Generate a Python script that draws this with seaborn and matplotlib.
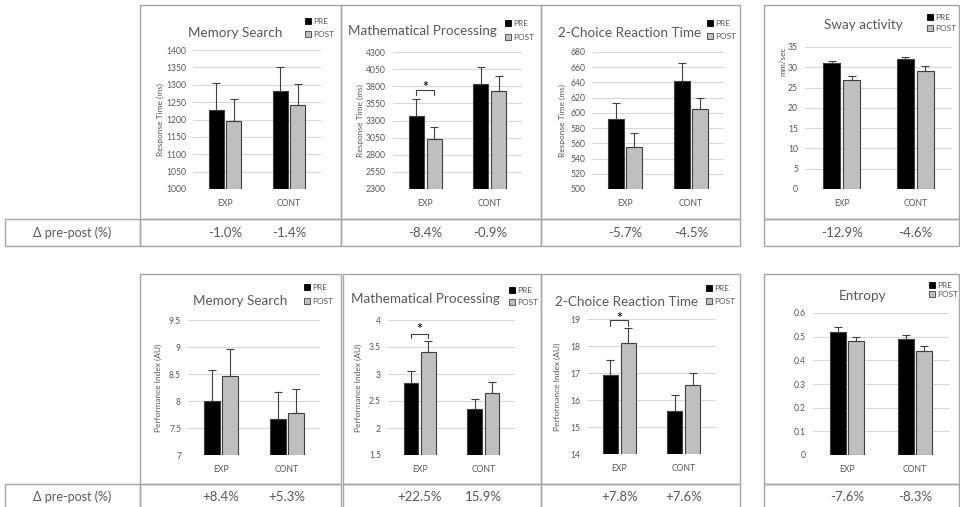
import numpy as np
import pandas as pd
import matplotlib
matplotlib.use('Agg')
import matplotlib.pyplot as plt
from matplotlib.patches import Rectangle, Patch
from matplotlib.ticker import FuncFormatter
from matplotlib.transforms import blended_transform_factory
import seaborn as sns

W, H = 960, 507

groups = ['EXP', 'CONT']
phases = ['PRE', 'POST']

# top row: response times / sway
memory_rt_pre = [1228, 1281]
memory_rt_post = [1195, 1241]
memory_rt_pre_err = [77, 71]
memory_rt_post_err = [63, 62]

math_rt_pre = [3370, 3840]
math_rt_post = [3030, 3730]
math_rt_pre_err = [240, 245]
math_rt_post_err = [175, 220]

choice_rt_pre = [592, 642]
choice_rt_post = [555, 605]
choice_rt_pre_err = [21, 24]
choice_rt_post_err = [18, 15]

sway_pre = [31.1, 32.0]
sway_post = [26.8, 29.2]
sway_pre_err = [0.5, 0.5]
sway_post_err = [1.1, 1.0]

# bottom row: performance index / entropy
memory_pi_pre = [8.0, 7.67]
memory_pi_post = [8.47, 7.78]
memory_pi_pre_err = [0.57, 0.5]
memory_pi_post_err = [0.5, 0.44]

math_pi_pre = [2.83, 2.36]
math_pi_post = [3.40, 2.65]
math_pi_pre_err = [0.22, 0.17]
math_pi_post_err = [0.22, 0.2]

choice_pi_pre = [16.93, 15.6]
choice_pi_post = [18.12, 16.55]
choice_pi_pre_err = [0.55, 0.6]
choice_pi_post_err = [0.53, 0.45]

entropy_pre = [0.52, 0.49]
entropy_post = [0.48, 0.44]
entropy_pre_err = [0.02, 0.015]
entropy_post_err = [0.02, 0.02]

delta_top = [['-1.0%', '-1.4%'], ['-8.4%', '-0.9%'], ['-5.7%', '-4.5%'], ['-12.9%', '-4.6%']]
delta_bottom = [['+8.4%', '+5.3%'], ['+22.5%', '15.9%'], ['+7.8%', '+7.6%'], ['-7.6%', '-8.3%']]

GRAY_TXT = '#595959'
BOX = '#a6a6a6'

sns.set_theme(style='white')
plt.rcParams['font.family'] = ['Lato', 'DejaVu Sans']

fig = plt.figure(figsize=(W / 100, H / 100), dpi=100)


def fx(x):
    return x / W


def fy(y):
    return 1 - y / H


def box(x0, y0, x1, y1):
    fig.add_artist(Rectangle((fx(x0), fy(y1)), fx(x1 - x0), (y1 - y0) / H,
                             transform=fig.transFigure, fill=False,
                             edgecolor=BOX, lw=1))


def panel(rect, pre, post, pre_err, post_err, ylim, step, title, title_xy,
          legend_xy, deltas, delta_y, ylabel=None, ylabel_x=None,
          ylabel_y=0.5, bracket=None):
    l, t, r, b = rect
    ax = fig.add_axes([fx(l), fy(b), fx(r - l), (b - t) / H])
    df = pd.DataFrame({'group': groups * 2,
                       'phase': ['PRE'] * 2 + ['POST'] * 2,
                       'value': pre + post})
    sns.barplot(data=df, x='group', y='value', hue='phase', hue_order=phases,
                palette=['#000000', '#bfbfbf'], width=0.55, gap=0.15,
                edgecolor='#404040', linewidth=0.8, errorbar=None,
                legend=False, ax=ax)
    bars = sorted(ax.patches, key=lambda p: p.get_x())
    errs = [pre_err[0], post_err[0], pre_err[1], post_err[1]]
    for p, e in zip(bars, errs):
        xc = p.get_x() + p.get_width() / 2
        ax.errorbar(xc, p.get_height(), yerr=[[0], [e]], fmt='none',
                    ecolor='#404040', elinewidth=0.8, capsize=2.8,
                    capthick=0.8)
    ax.set_xlim(-0.5, 1.5)
    ax.set_ylim(*ylim)
    ax.set_yticks(np.arange(ylim[0], ylim[1] + step / 2, step))
    ax.yaxis.set_major_formatter(FuncFormatter(lambda v, _: '%g' % round(v, 3)))
    ax.yaxis.grid(True, color='#d9d9d9', lw=0.8)
    ax.set_axisbelow(True)
    for s in ax.spines.values():
        s.set_visible(False)
    ax.tick_params(length=0, labelsize=6.2, labelcolor=GRAY_TXT)
    ax.tick_params(axis='x', pad=7)
    ax.tick_params(axis='y', pad=5)
    ax.set_xlabel('')
    if ylabel:
        ax.set_ylabel(ylabel, fontsize=6, color=GRAY_TXT)
        ax.yaxis.set_label_coords((ylabel_x + 4 - l) / (r - l), ylabel_y)
    else:
        ax.set_ylabel('')
    fig.text(fx(title_xy[0]), fy(title_xy[1]), title, ha='center',
             va='center', fontsize=9.7, color=GRAY_TXT)

    lx, ly0, ly1 = legend_xy
    handles = [Patch(facecolor='#000000', edgecolor='#000000', lw=0.6),
               Patch(facecolor='#bfbfbf', edgecolor='#404040', lw=0.6)]
    spacing = max(0.0, ((ly1 - ly0) - 10) / 8.33)
    ax.legend(handles, phases, loc='upper left',
              bbox_to_anchor=(fx(lx), fy(ly0 - 5)),
              bbox_transform=fig.transFigure, frameon=False, fontsize=6,
              handlelength=0.7, handleheight=0.7, handletextpad=0.3,
              labelspacing=spacing, borderpad=0, borderaxespad=0,
              labelcolor=GRAY_TXT)

    tr = blended_transform_factory(ax.transData, fig.transFigure)
    for i, d in enumerate(deltas):
        ax.text(i, fy(delta_y), d, transform=tr, ha='center', va='center',
                fontsize=9.5, color=GRAY_TXT, clip_on=False)

    if bracket is not None:
        y_leg, y_top, y_star = bracket
        x0 = bars[0].get_x() + bars[0].get_width() / 2
        x1 = bars[1].get_x() + bars[1].get_width() / 2
        ax.plot([x0, x0, x1, x1], [y_leg, y_top, y_top, y_leg],
                color='#404040', lw=0.8, clip_on=False)
        ax.text((x0 + x1) / 2, y_star, '*', ha='center', va='center',
                fontsize=10, fontweight='bold', color='#262626',
                clip_on=False)
    return ax


# frames
box(5, 219, 140, 246)
box(5, 484, 140, 509)
for x0, x1 in [(140, 341), (341, 541), (541, 740), (764, 959)]:
    box(x0, 5, x1, 219)
    box(x0, 219, x1, 246)
for x0, x1 in [(140, 341), (343, 541), (541, 740), (764, 959)]:
    box(x0, 274, x1, 484)
    box(x0, 484, x1, 509)
fig.text(fx(72), fy(233), '\u0394 pre-post (%)', ha='center', va='center',
         fontsize=9, color=GRAY_TXT)
fig.text(fx(72), fy(497), '\u0394 pre-post (%)', ha='center', va='center',
         fontsize=9, color=GRAY_TXT)

rt_label = 'Response Time (ms)'
pi_label = 'Performance Index (AU)'

panel((193, 50, 321, 189), memory_rt_pre, memory_rt_post, memory_rt_pre_err,
      memory_rt_post_err, (1000, 1400), 50, 'Memory Search', (235, 33),
      (305, 23, 39), delta_top[0], 233, rt_label, 160)
panel((393, 52, 522, 189), math_rt_pre, math_rt_post, math_rt_pre_err,
      math_rt_post_err, (2300, 4300), 250, 'Mathematical Processing',
      (422, 31), (505, 25, 42), delta_top[1], 233, rt_label, 360,
      bracket=(3670, 3745, 3790))
panel((592, 52, 724, 189), choice_rt_pre, choice_rt_post, choice_rt_pre_err,
      choice_rt_post_err, (500, 680), 20, '2-Choice Reaction Time',
      (630, 33), (707, 25, 41), delta_top[2], 233, rt_label, 562)
panel((805, 47, 952, 189), sway_pre, sway_post, sway_pre_err, sway_post_err,
      (0, 35), 5, 'Sway activity', (863, 25), (927, 19, 33), delta_top[3],
      233, 'mm/sec', 782, ylabel_y=0.9)

panel((188, 320, 320, 455), memory_pi_pre, memory_pi_post, memory_pi_pre_err,
      memory_pi_post_err, (7, 9.5), 0.5, 'Memory Search', (240, 301),
      (304, 289, 306), delta_bottom[0], 497, pi_label, 158)
panel((388, 320, 515, 455), math_pi_pre, math_pi_post, math_pi_pre_err,
      math_pi_post_err, (1.5, 4), 0.5, 'Mathematical Processing', (425, 299),
      (509, 292, 307), delta_bottom[1], 497, pi_label, 358,
      bracket=(3.66, 3.75, 3.84))
panel((587, 319, 716, 454), choice_pi_pre, choice_pi_post, choice_pi_pre_err,
      choice_pi_post_err, (14, 19), 1, '2-Choice Reaction Time', (627, 302),
      (706, 290, 306), delta_bottom[2], 497, pi_label, 557,
      bracket=(18.73, 18.95, 19.05))
panel((813, 313, 949, 455), entropy_pre, entropy_post, entropy_pre_err,
      entropy_post_err, (0, 0.6), 0.1, 'Entropy', (863, 296),
      (929, 287, 299), delta_bottom[3], 497)

fig.savefig('out.png', dpi=100)
